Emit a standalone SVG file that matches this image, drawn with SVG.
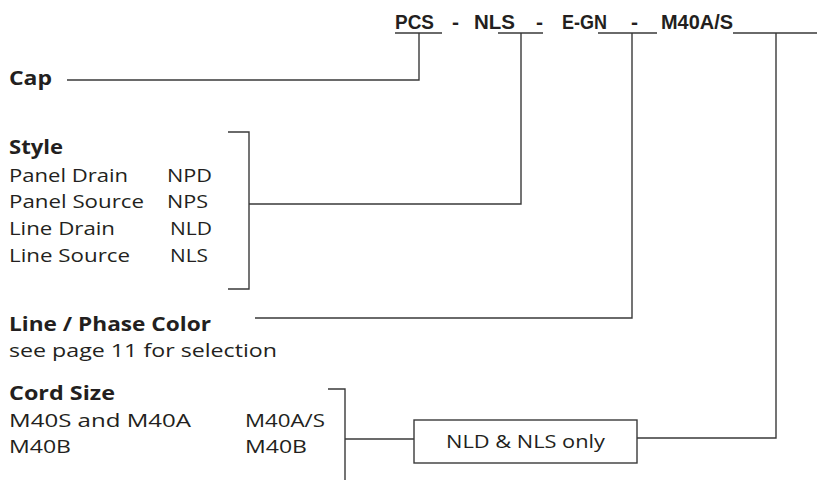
<svg xmlns="http://www.w3.org/2000/svg" width="817" height="481" viewBox="0 0 817 481">
<style>
.t{font-family:"Open Sans","Noto Sans","Liberation Sans",sans-serif;font-size:19px;fill:#231f20}
.b{font-weight:bold}
.code{font-family:"Liberation Sans Narrow","Liberation Sans",sans-serif;font-size:21px;font-weight:bold;fill:#231f20}
.ln{fill:none;stroke:#3a3a3a;stroke-width:1.4}
</style>
<rect width="817" height="481" fill="#fff"/>
<g id="code">
<text class="code" x="395" y="29" textLength="39" lengthAdjust="spacingAndGlyphs">PCS</text>
<text class="code" x="452" y="29">-</text>
<text class="code" x="474" y="29" textLength="41" lengthAdjust="spacingAndGlyphs">NLS</text>
<text class="code" x="536" y="29">-</text>
<text class="code" x="562" y="29" textLength="45" lengthAdjust="spacingAndGlyphs">E-GN</text>
<text class="code" x="631" y="29">-</text>
<text class="code" x="661" y="29" textLength="72" lengthAdjust="spacingAndGlyphs">M40A/S</text>
</g>
<g id="cap"><text class="t b" x="9" y="85" textLength="43" lengthAdjust="spacingAndGlyphs">Cap</text></g>
<g id="style">
<text class="t b" x="9" y="154" textLength="54" lengthAdjust="spacingAndGlyphs">Style</text>
<text class="t" x="9" y="182" textLength="119" lengthAdjust="spacingAndGlyphs">Panel Drain</text><text class="t" x="167" y="182" textLength="45" lengthAdjust="spacingAndGlyphs">NPD</text>
<text class="t" x="9" y="208" textLength="135" lengthAdjust="spacingAndGlyphs">Panel Source</text><text class="t" x="167" y="208" textLength="41" lengthAdjust="spacingAndGlyphs">NPS</text>
<text class="t" x="9" y="235" textLength="106" lengthAdjust="spacingAndGlyphs">Line Drain</text><text class="t" x="170" y="235" textLength="42" lengthAdjust="spacingAndGlyphs">NLD</text>
<text class="t" x="9" y="262" textLength="121" lengthAdjust="spacingAndGlyphs">Line Source</text><text class="t" x="170" y="262" textLength="38" lengthAdjust="spacingAndGlyphs">NLS</text>
</g>
<g id="color">
<text class="t b" x="9" y="331" textLength="202" lengthAdjust="spacingAndGlyphs">Line / Phase Color</text>
<text class="t" x="9" y="357" textLength="268" lengthAdjust="spacingAndGlyphs">see page 11 for selection</text>
</g>
<g id="cord">
<text class="t b" x="9" y="400" textLength="106" lengthAdjust="spacingAndGlyphs">Cord Size</text>
<text class="t" x="9" y="427" textLength="182" lengthAdjust="spacingAndGlyphs">M40S and M40A</text><text class="t" x="245" y="427" textLength="80" lengthAdjust="spacingAndGlyphs">M40A/S</text>
<text class="t" x="9" y="453" textLength="62" lengthAdjust="spacingAndGlyphs">M40B</text><text class="t" x="245" y="453" textLength="62" lengthAdjust="spacingAndGlyphs">M40B</text>
</g>
<g id="note">
<rect class="ln" x="414" y="420" width="223" height="43"/>
<text class="t" x="446" y="448" textLength="159" lengthAdjust="spacingAndGlyphs">NLD &amp; NLS only</text>
</g>
<g id="connectors">
<path class="ln" d="M395 33H442M498 33H543M598 33H657M733 33H817"/>
<path class="ln" d="M419 33V80H67"/>
<path class="ln" d="M521 33V204H249"/>
<path class="ln" d="M228 132H249V289H228"/>
<path class="ln" d="M632 33V318H255"/>
<path class="ln" d="M776 33V438H637"/>
<path class="ln" d="M328 389H345V480"/>
<path class="ln" d="M345 439H414"/>
</g>
</svg>
